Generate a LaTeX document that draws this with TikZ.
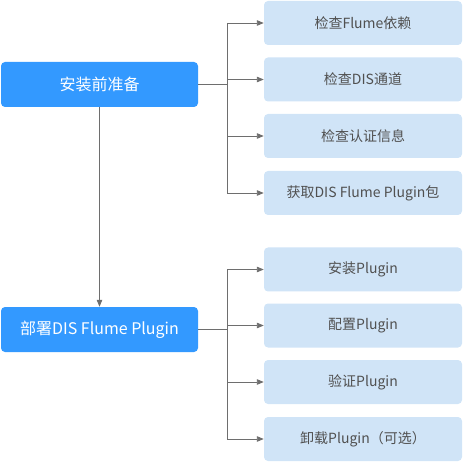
\documentclass[tikz,border=0pt]{standalone}
\usepackage{fontspec}
\setmainfont{Noto Sans CJK SC}
\usetikzlibrary{arrows.meta}
\definecolor{mainblue}{RGB}{51,153,255}
\definecolor{lightblue}{RGB}{208,228,247}
\definecolor{txtgray}{RGB}{80,80,80}
\definecolor{linegray}{RGB}{110,110,110}
\tikzset{
  mainbox/.style={fill=mainblue, draw=none, rounded corners=4pt, minimum width=197pt, minimum height=45pt, text=white, font=\fontsize{16}{19}\selectfont, inner sep=0pt},
  subbox/.style={fill=lightblue, draw=none, rounded corners=4pt, minimum width=198pt, minimum height=44pt, text=txtgray, font=\fontsize{14}{17}\selectfont, inner sep=0pt},
  conn/.style={draw=linegray, line width=0.9pt},
  arr/.style={conn, -{Triangle[length=7pt,width=5.5pt]}}
}
\begin{document}
\begin{tikzpicture}[x=1pt,y=-1pt]
\useasboundingbox (0,0) rectangle (463,462);
\node[mainbox] (L1) at (99.5,84.5) {安装前准备};
\node[mainbox] (L2) at (99.5,329.5) {部署DIS Flume Plugin};
\node[subbox] (R1) at (363,23) {检查Flume依赖};
\node[subbox] (R2) at (363,79.5) {检查DIS通道};
\node[subbox] (R3) at (363,136) {检查认证信息};
\node[subbox] (R4) at (363,193) {获取DIS Flume Plugin包};
\node[subbox] (S1) at (363,269.5) {安装Plugin};
\node[subbox] (S2) at (363,325.5) {配置Plugin};
\node[subbox] (S3) at (363,382) {验证Plugin};
\node[subbox] (S4) at (363,439) {卸载Plugin（可选）};
\coordinate (bx) at (227,0);
\draw[arr] (L1.south) -- (L2.north);
\draw[conn] (L1.east) -- (L1.east -| bx);
\draw[conn] (R1.west -| bx) -- (R4.west -| bx);
\foreach \r in {R1,R2,R3,R4} \draw[arr] (\r.west -| bx) -- (\r.west);
\draw[conn] (L2.east) -- (L2.east -| bx);
\draw[conn] (S1.west -| bx) -- (S4.west -| bx);
\foreach \r in {S1,S2,S3,S4} \draw[arr] (\r.west -| bx) -- (\r.west);
\end{tikzpicture}
\end{document}
